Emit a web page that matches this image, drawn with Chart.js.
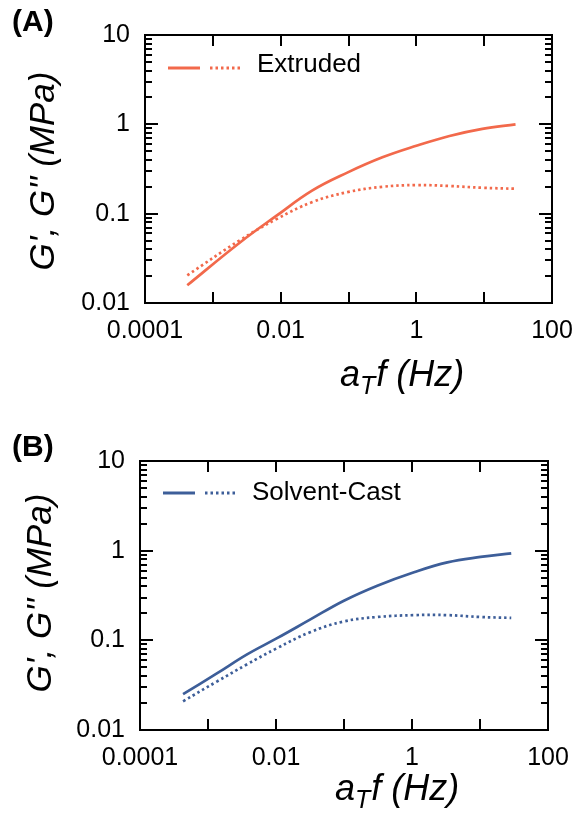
<!DOCTYPE html>
<html>
<head>
<meta charset="utf-8">
<title>Dynamic moduli master curves</title>
<script src="https://cdn.jsdelivr.net/npm/chart.js@4.4.1/dist/chart.umd.min.js"></script>
<style>
    body { margin: 0; background: #fff; }
    canvas { display: block; }
</style>
</head>
<body>
<canvas id="extrudedChart" width="579" height="411"></canvas>
<canvas id="castChart" width="579" height="411"></canvas>
<script>
// Reduced frequency a_T f (Hz) and moduli G', G'' (MPa)
const extrudedFreq    = [0.00042, 0.00246, 0.0087, 0.0294, 0.096, 0.316, 1.0, 3.08, 9.4, 29];
const extrudedStorage = [0.0158, 0.047, 0.095, 0.182, 0.288, 0.427, 0.575, 0.741, 0.89, 1.0];
const extrudedLoss    = [0.0204, 0.050, 0.087, 0.135, 0.174, 0.200, 0.209, 0.204, 0.195, 0.190];

const castFreq    = [0.00043, 0.00135, 0.0037, 0.0102, 0.0316, 0.098, 0.309, 1.07, 3.31, 10.2, 28.8];
const castStorage = [0.0251, 0.0427, 0.0692, 0.105, 0.170, 0.275, 0.407, 0.575, 0.741, 0.851, 0.933];
const castLoss    = [0.0209, 0.0347, 0.0537, 0.0813, 0.123, 0.162, 0.182, 0.191, 0.191, 0.182, 0.178];

// Axis ticks
const xTickValues = [0.0001, 0.001, 0.01, 0.1, 1, 10, 100];
const xTickLabels = ['0.0001', '', '0.01', '', '1', '', '100'];
const yTickValues = [0.01, 0.1, 1, 10];
const yTickLabels = ['0.01', '0.1', '1', '10'];

const FONT = "'Liberation Sans', Arial, sans-serif";

// Per-panel layout
const panels = {
    extruded: {
        canvas: 'extrudedChart',
        label: '(A)',
        name: 'Extruded',
        color: '#f2694b',
        area: { left: 145, top: 35, right: 552, bottom: 303 },
        labelPos: { x: 12, y: 31 },
        legend: { x: 168, y: 68, textX: 257, baseline: 72 },
        yTitle: { x: 44, y: 171 },
        xTitle: { x: 340, baseline: 386 }
    },
    cast: {
        canvas: 'castChart',
        label: '(B)',
        name: 'Solvent-Cast',
        color: '#3d5e99',
        area: { left: 140, top: 50, right: 548, bottom: 319 },
        labelPos: { x: 12, y: 45 },
        legend: { x: 163, y: 82, textX: 252, baseline: 89 },
        yTitle: { x: 41, y: 182 },
        xTitle: { x: 335, baseline: 389 }
    }
};

// Frame, inward ticks, panel letter, legend and axis titles
const decorPlugin = {
    id: 'decor',
    afterDraw(chart, args, opts) {
        const { ctx, chartArea: a, scales: { x, y } } = chart;
        ctx.save();

        // box
        ctx.strokeStyle = '#000';
        ctx.lineWidth = 2;
        ctx.strokeRect(a.left, a.top, a.right - a.left, a.bottom - a.top);

        // ticks pointing inward
        ctx.beginPath();
        xTickValues.forEach(v => {
            const px = Math.round(x.getPixelForValue(v));
            ctx.moveTo(px, a.bottom); ctx.lineTo(px, a.bottom - 11);
            ctx.moveTo(px, a.top); ctx.lineTo(px, a.top + 11);
        });
        yTickValues.forEach((v, i) => {
            const py = Math.round(y.getPixelForValue(v));
            ctx.moveTo(a.left, py); ctx.lineTo(a.left + 13, py);
            ctx.moveTo(a.right, py); ctx.lineTo(a.right - 13, py);
            if (i === yTickValues.length - 1) return;
            for (let m = 2; m <= 9; m++) {
                const pm = Math.round(y.getPixelForValue(v * m));
                ctx.moveTo(a.left, pm); ctx.lineTo(a.left + 7, pm);
                ctx.moveTo(a.right, pm); ctx.lineTo(a.right - 7, pm);
            }
        });
        ctx.stroke();

        // panel letter
        ctx.fillStyle = '#000';
        ctx.font = 'bold 30px ' + FONT;
        ctx.textAlign = 'left';
        ctx.textBaseline = 'alphabetic';
        ctx.fillText(opts.label, opts.labelPos.x, opts.labelPos.y);

        // legend: solid G' and dotted G'' sample, then the name
        const lg = opts.legend;
        ctx.strokeStyle = opts.color;
        ctx.lineWidth = 3;
        ctx.beginPath();
        ctx.moveTo(lg.x, lg.y); ctx.lineTo(lg.x + 32, lg.y);
        ctx.stroke();
        ctx.setLineDash([2.5, 3]);
        ctx.beginPath();
        ctx.moveTo(lg.x + 42, lg.y); ctx.lineTo(lg.x + 73, lg.y);
        ctx.stroke();
        ctx.setLineDash([]);
        ctx.font = '26px ' + FONT;
        ctx.fillText(opts.name, lg.textX, lg.baseline);

        // y title
        ctx.save();
        ctx.translate(opts.yTitle.x, opts.yTitle.y);
        ctx.rotate(-Math.PI / 2);
        ctx.font = 'italic 35px ' + FONT;
        ctx.textAlign = 'center';
        ctx.textBaseline = 'middle';
        ctx.fillText("G', G'' (MPa)", 0, 0);
        ctx.restore();

        // x title with subscript T
        let tx = opts.xTitle.x;
        const bl = opts.xTitle.baseline;
        ctx.font = 'italic 36px ' + FONT;
        ctx.fillText('a', tx, bl);
        tx += ctx.measureText('a').width;
        ctx.font = 'italic 25px ' + FONT;
        ctx.fillText('T', tx, bl + 8);
        tx += ctx.measureText('T').width + 1;
        ctx.font = 'italic 36px ' + FONT;
        ctx.fillText('f (Hz)', tx, bl);

        ctx.restore();
    }
};

function toPoints(xs, ys) {
    return xs.map((v, i) => ({ x: v, y: ys[i] }));
}

function buildChart(panel, freq, storage, loss) {
    const H = 411, W = 579;
    const area = panel.area;
    const ctx = document.getElementById(panel.canvas).getContext('2d');

    return new Chart(ctx, {
        type: 'line',
        data: {
            datasets: [
                {
                    label: "G'",
                    data: toPoints(freq, storage),
                    borderColor: panel.color,
                    borderWidth: 2.7,
                    pointRadius: 0,
                    tension: 0.4,
                    fill: false
                },
                {
                    label: "G''",
                    data: toPoints(freq, loss),
                    borderColor: panel.color,
                    borderWidth: 2.7,
                    borderDash: [2.5, 3],
                    pointRadius: 0,
                    tension: 0.4,
                    fill: false
                }
            ]
        },
        options: {
            responsive: false,
            animation: false,
            layout: {
                padding: { left: 0, top: area.top, right: W - area.right, bottom: 0 }
            },
            plugins: {
                legend: { display: false },
                tooltip: { enabled: false },
                decor: panel
            },
            scales: {
                x: {
                    type: 'logarithmic',
                    min: 0.0001,
                    max: 100,
                    grid: { display: false, drawTicks: false },
                    border: { display: false },
                    afterBuildTicks: (scale) => {
                        scale.ticks = xTickValues.map(v => ({ value: v }));
                    },
                    afterFit: (scale) => {
                        // fixed plot box: no extra room for edge labels
                        scale.height = H - area.bottom;
                        scale.paddingLeft = 0;
                        scale.paddingRight = 0;
                    },
                    ticks: {
                        autoSkip: false,
                        maxRotation: 0,
                        padding: 13,
                        color: '#000',
                        font: { family: FONT, size: 25 },
                        callback: (value) => xTickLabels[xTickValues.indexOf(value)] ?? ''
                    }
                },
                y: {
                    type: 'logarithmic',
                    min: 0.01,
                    max: 10,
                    grid: { display: false, drawTicks: false },
                    border: { display: false },
                    afterBuildTicks: (scale) => {
                        scale.ticks = yTickValues.map(v => ({ value: v }));
                    },
                    afterFit: (scale) => {
                        scale.width = area.left;
                        scale.paddingTop = 0;
                        scale.paddingBottom = 0;
                    },
                    ticks: {
                        autoSkip: false,
                        padding: 15,
                        color: '#000',
                        font: { family: FONT, size: 25 },
                        callback: (value) => yTickLabels[yTickValues.indexOf(value)] ?? ''
                    }
                }
            }
        },
        plugins: [decorPlugin]
    });
}

buildChart(panels.extruded, extrudedFreq, extrudedStorage, extrudedLoss);
buildChart(panels.cast, castFreq, castStorage, castLoss);
</script>
</body>
</html>
